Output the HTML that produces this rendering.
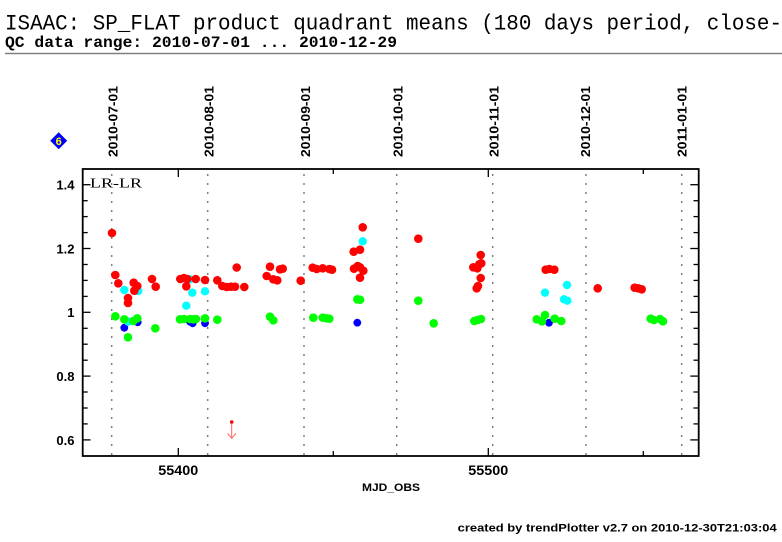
<!DOCTYPE html>
<html><head><meta charset="utf-8"><style>
html,body{margin:0;padding:0;background:#fff;}
svg{display:block;}
</style></head><body>
<svg width="782" height="542" viewBox="0 0 782 542" xmlns="http://www.w3.org/2000/svg">
<rect width="782" height="542" fill="#fff"/>
<text x="5" y="29.5" font-family="Liberation Mono, monospace" font-size="22" textLength="777" lengthAdjust="spacingAndGlyphs" fill="#000">ISAAC: SP_FLAT product quadrant means (180 days period, close-</text>
<text x="5" y="47" font-family="Liberation Mono, monospace" font-size="16" font-weight="bold" textLength="392" lengthAdjust="spacingAndGlyphs" fill="#000">QC data range: 2010-07-01 ... 2010-12-29</text>
<line x1="5" y1="53.5" x2="782" y2="53.5" stroke="#808080" stroke-width="1.5"/>

<polygon points="58.7,132.2 67.2,140.7 58.7,149.2 50.2,140.7" fill="#0000ff"/>
<text x="58.7" y="144.8" text-anchor="middle" font-family="Liberation Sans, sans-serif" font-size="11" font-weight="bold" fill="#ffff00">6</text>

<g font-family="Liberation Sans, sans-serif" font-size="13" font-weight="bold" fill="#000">
<text transform="translate(117.3,157) rotate(-90)" textLength="71" lengthAdjust="spacingAndGlyphs">2010-07-01</text>
<text transform="translate(213.3,157) rotate(-90)" textLength="71" lengthAdjust="spacingAndGlyphs">2010-08-01</text>
<text transform="translate(310,157) rotate(-90)" textLength="71" lengthAdjust="spacingAndGlyphs">2010-09-01</text>
<text transform="translate(402.3,157) rotate(-90)" textLength="71" lengthAdjust="spacingAndGlyphs">2010-10-01</text>
<text transform="translate(498.3,157) rotate(-90)" textLength="71" lengthAdjust="spacingAndGlyphs">2010-11-01</text>
<text transform="translate(590,157) rotate(-90)" textLength="71" lengthAdjust="spacingAndGlyphs">2010-12-01</text>
<text transform="translate(686.7,157) rotate(-90)" textLength="71" lengthAdjust="spacingAndGlyphs">2011-01-01</text>
</g>

<g stroke="#808080" stroke-width="1.5" stroke-dasharray="2 7">
<line x1="111.7" y1="174" x2="111.7" y2="455"/>
<line x1="207.7" y1="174" x2="207.7" y2="455"/>
<line x1="304" y1="174" x2="304" y2="455"/>
<line x1="396.7" y1="174" x2="396.7" y2="455"/>
<line x1="492.7" y1="174" x2="492.7" y2="455"/>
<line x1="586" y1="174" x2="586" y2="455"/>
<line x1="681.7" y1="174" x2="681.7" y2="455"/>
</g>

<rect x="82.7" y="169" width="616" height="287" fill="none" stroke="#000" stroke-width="1.8"/>

<g stroke="#000" stroke-width="1.3">
<line x1="82.7" y1="439.9" x2="90.5" y2="439.9"/>
<line x1="82.7" y1="376.1" x2="90.5" y2="376.1"/>
<line x1="82.7" y1="312.3" x2="90.5" y2="312.3"/>
<line x1="82.7" y1="248.5" x2="90.5" y2="248.5"/>
<line x1="82.7" y1="184.7" x2="90.5" y2="184.7"/>
<line x1="82.7" y1="423.9" x2="87.7" y2="423.9"/>
<line x1="82.7" y1="408" x2="87.7" y2="408"/>
<line x1="82.7" y1="392" x2="87.7" y2="392"/>
<line x1="82.7" y1="360.2" x2="87.7" y2="360.2"/>
<line x1="82.7" y1="344.2" x2="87.7" y2="344.2"/>
<line x1="82.7" y1="328.3" x2="87.7" y2="328.3"/>
<line x1="82.7" y1="296.4" x2="87.7" y2="296.4"/>
<line x1="82.7" y1="280.4" x2="87.7" y2="280.4"/>
<line x1="82.7" y1="264.5" x2="87.7" y2="264.5"/>
<line x1="82.7" y1="232.6" x2="87.7" y2="232.6"/>
<line x1="82.7" y1="216.6" x2="87.7" y2="216.6"/>
<line x1="82.7" y1="200.7" x2="87.7" y2="200.7"/>
<line x1="690.3" y1="439.9" x2="698.7" y2="439.9"/>
<line x1="690.3" y1="376.1" x2="698.7" y2="376.1"/>
<line x1="690.3" y1="312.3" x2="698.7" y2="312.3"/>
<line x1="690.3" y1="248.5" x2="698.7" y2="248.5"/>
<line x1="690.3" y1="184.7" x2="698.7" y2="184.7"/>
<line x1="693.5" y1="423.9" x2="698.7" y2="423.9"/>
<line x1="693.5" y1="408" x2="698.7" y2="408"/>
<line x1="693.5" y1="392" x2="698.7" y2="392"/>
<line x1="693.5" y1="360.2" x2="698.7" y2="360.2"/>
<line x1="693.5" y1="344.2" x2="698.7" y2="344.2"/>
<line x1="693.5" y1="328.3" x2="698.7" y2="328.3"/>
<line x1="693.5" y1="296.4" x2="698.7" y2="296.4"/>
<line x1="693.5" y1="280.4" x2="698.7" y2="280.4"/>
<line x1="693.5" y1="264.5" x2="698.7" y2="264.5"/>
<line x1="693.5" y1="232.6" x2="698.7" y2="232.6"/>
<line x1="693.5" y1="216.6" x2="698.7" y2="216.6"/>
<line x1="693.5" y1="200.7" x2="698.7" y2="200.7"/>
<line x1="178.3" y1="456" x2="178.3" y2="448"/>
<line x1="333.3" y1="456" x2="333.3" y2="451"/>
<line x1="488.3" y1="456" x2="488.3" y2="448"/>
<line x1="643.3" y1="456" x2="643.3" y2="451"/>
<line x1="178.3" y1="169" x2="178.3" y2="177"/>
<line x1="333.3" y1="169" x2="333.3" y2="174"/>
<line x1="488.3" y1="169" x2="488.3" y2="177"/>
<line x1="643.3" y1="169" x2="643.3" y2="174"/>
</g>

<g font-family="Liberation Sans, sans-serif" font-size="13" font-weight="bold" fill="#000" text-anchor="end">
<text x="74.5" y="444.8">0.6</text>
<text x="74.5" y="381">0.8</text>
<text x="74.5" y="317.2">1</text>
<text x="74.5" y="253.4">1.2</text>
<text x="74.5" y="189.6">1.4</text>
</g>

<g font-family="Liberation Sans, sans-serif" font-weight="bold" fill="#000" text-anchor="middle">
<text x="178.3" y="475" font-size="14" textLength="40" lengthAdjust="spacingAndGlyphs">55400</text>
<text x="488.3" y="475" font-size="14" textLength="40" lengthAdjust="spacingAndGlyphs">55500</text>
<text x="391" y="491" font-size="11" textLength="58" lengthAdjust="spacingAndGlyphs">MJD_OBS</text>
</g>

<text x="90" y="187.3" font-family="Liberation Serif, serif" font-size="14" textLength="52" lengthAdjust="spacingAndGlyphs" fill="#000">LR-LR</text>

<g fill="#0000ff">
<circle cx="124.3" cy="327.7" r="3.9"/>
<circle cx="137.7" cy="322.3" r="3.9"/>
<circle cx="190" cy="321.7" r="3.9"/>
<circle cx="192.7" cy="323.3" r="3.9"/>
<circle cx="205" cy="323.3" r="3.9"/>
<circle cx="357.3" cy="322.7" r="3.9"/>
<circle cx="549" cy="322.7" r="3.9"/>
</g>

<g fill="#00ffff">
<circle cx="124.3" cy="290" r="4.2"/>
<circle cx="138.3" cy="291" r="4.2"/>
<circle cx="128.3" cy="321.7" r="4.2"/>
<circle cx="190" cy="279.3" r="4.2"/>
<circle cx="192.3" cy="292.7" r="4.2"/>
<circle cx="186.3" cy="305.7" r="4.2"/>
<circle cx="205" cy="291.3" r="4.2"/>
<circle cx="362.7" cy="241.3" r="4.2"/>
<circle cx="567" cy="285" r="4.2"/>
<circle cx="545" cy="292.7" r="4.2"/>
<circle cx="564" cy="299.3" r="4.2"/>
<circle cx="567.3" cy="300.7" r="4.2"/>
</g>

<g fill="#00ff00">
<circle cx="115.3" cy="316.3" r="4.3"/>
<circle cx="124.3" cy="319.3" r="4.3"/>
<circle cx="133.3" cy="321" r="4.3"/>
<circle cx="137.3" cy="318.3" r="4.3"/>
<circle cx="128" cy="337.3" r="4.3"/>
<circle cx="155.3" cy="328.3" r="4.3"/>
<circle cx="180" cy="319.3" r="4.3"/>
<circle cx="184" cy="319" r="4.3"/>
<circle cx="190" cy="319" r="4.3"/>
<circle cx="193.3" cy="319.3" r="4.3"/>
<circle cx="196" cy="319" r="4.3"/>
<circle cx="205" cy="318.3" r="4.3"/>
<circle cx="217.3" cy="319.7" r="4.3"/>
<circle cx="270" cy="316.7" r="4.3"/>
<circle cx="273.3" cy="320.3" r="4.3"/>
<circle cx="313.3" cy="317.7" r="4.3"/>
<circle cx="322.7" cy="317.7" r="4.3"/>
<circle cx="326.7" cy="318.3" r="4.3"/>
<circle cx="329.3" cy="318.7" r="4.3"/>
<circle cx="357.3" cy="299.3" r="4.3"/>
<circle cx="360" cy="299.7" r="4.3"/>
<circle cx="418.3" cy="300.7" r="4.3"/>
<circle cx="433.7" cy="323.3" r="4.3"/>
<circle cx="474.3" cy="321" r="4.3"/>
<circle cx="477.7" cy="320" r="4.3"/>
<circle cx="481" cy="319" r="4.3"/>
<circle cx="536.7" cy="319.3" r="4.3"/>
<circle cx="542" cy="321.3" r="4.3"/>
<circle cx="545" cy="315" r="4.3"/>
<circle cx="554.7" cy="318.7" r="4.3"/>
<circle cx="561.3" cy="321" r="4.3"/>
<circle cx="650.7" cy="318.7" r="4.3"/>
<circle cx="654" cy="320" r="4.3"/>
<circle cx="660" cy="319" r="4.3"/>
<circle cx="663" cy="321.3" r="4.3"/>
</g>

<g fill="#ff0000">
<circle cx="112" cy="233" r="4.3"/>
<circle cx="115.3" cy="275" r="4.3"/>
<circle cx="118.3" cy="283.3" r="4.3"/>
<circle cx="133.7" cy="282.7" r="4.3"/>
<circle cx="137.3" cy="286" r="4.3"/>
<circle cx="134.3" cy="290.7" r="4.3"/>
<circle cx="128" cy="298" r="4.3"/>
<circle cx="128" cy="303" r="4.3"/>
<circle cx="152" cy="279" r="4.3"/>
<circle cx="155.7" cy="286.7" r="4.3"/>
<circle cx="180.3" cy="279" r="4.3"/>
<circle cx="184" cy="278" r="4.3"/>
<circle cx="187.3" cy="279" r="4.3"/>
<circle cx="186.3" cy="286.3" r="4.3"/>
<circle cx="195.7" cy="279" r="4.3"/>
<circle cx="205" cy="280" r="4.3"/>
<circle cx="217.3" cy="280.3" r="4.3"/>
<circle cx="222.3" cy="286" r="4.3"/>
<circle cx="226.7" cy="287" r="4.3"/>
<circle cx="231" cy="286.7" r="4.3"/>
<circle cx="235" cy="286.7" r="4.3"/>
<circle cx="244.3" cy="287" r="4.3"/>
<circle cx="236.7" cy="267.5" r="4.3"/>
<circle cx="266.7" cy="276" r="4.3"/>
<circle cx="270" cy="266.7" r="4.3"/>
<circle cx="273.3" cy="279.3" r="4.3"/>
<circle cx="277.3" cy="280.3" r="4.3"/>
<circle cx="280" cy="269.3" r="4.3"/>
<circle cx="282.7" cy="268.7" r="4.3"/>
<circle cx="300.7" cy="280.7" r="4.3"/>
<circle cx="312.7" cy="267.7" r="4.3"/>
<circle cx="316.7" cy="269" r="4.3"/>
<circle cx="322.7" cy="268.3" r="4.3"/>
<circle cx="329.3" cy="269" r="4.3"/>
<circle cx="332" cy="269.7" r="4.3"/>
<circle cx="362.7" cy="227.3" r="4.3"/>
<circle cx="353.7" cy="251.7" r="4.3"/>
<circle cx="360" cy="249.7" r="4.3"/>
<circle cx="354" cy="268.7" r="4.3"/>
<circle cx="357.7" cy="266" r="4.3"/>
<circle cx="360" cy="267.3" r="4.3"/>
<circle cx="363.3" cy="270.7" r="4.3"/>
<circle cx="360" cy="277.7" r="4.3"/>
<circle cx="418.3" cy="238.7" r="4.3"/>
<circle cx="480.7" cy="255" r="4.3"/>
<circle cx="473.3" cy="267.3" r="4.3"/>
<circle cx="477.3" cy="268.3" r="4.3"/>
<circle cx="479.3" cy="264.3" r="4.3"/>
<circle cx="481.3" cy="263.3" r="4.3"/>
<circle cx="480.7" cy="278" r="4.3"/>
<circle cx="476.7" cy="288.3" r="4.3"/>
<circle cx="478" cy="286" r="4.3"/>
<circle cx="545.7" cy="269.7" r="4.3"/>
<circle cx="549.3" cy="269" r="4.3"/>
<circle cx="554.3" cy="269.7" r="4.3"/>
<circle cx="597.7" cy="288.3" r="4.3"/>
<circle cx="634.7" cy="287.7" r="4.3"/>
<circle cx="638.3" cy="288.3" r="4.3"/>
<circle cx="641.7" cy="289.3" r="4.3"/>
</g>

<line x1="231.7" y1="422" x2="231.7" y2="438" stroke="#ff6060" stroke-width="1"/>
<polyline points="227.5,433.5 231.7,438.3 235.9,433.5" fill="none" stroke="#ff6060" stroke-width="1"/>
<circle cx="231.7" cy="422" r="1.8" fill="#ff0000"/>

<text x="457.7" y="531.7" font-family="Liberation Sans, sans-serif" font-size="11" font-weight="bold" textLength="319" lengthAdjust="spacingAndGlyphs" fill="#000">created by trendPlotter v2.7 on 2010-12-30T21:03:04</text>
</svg>
</body></html>
